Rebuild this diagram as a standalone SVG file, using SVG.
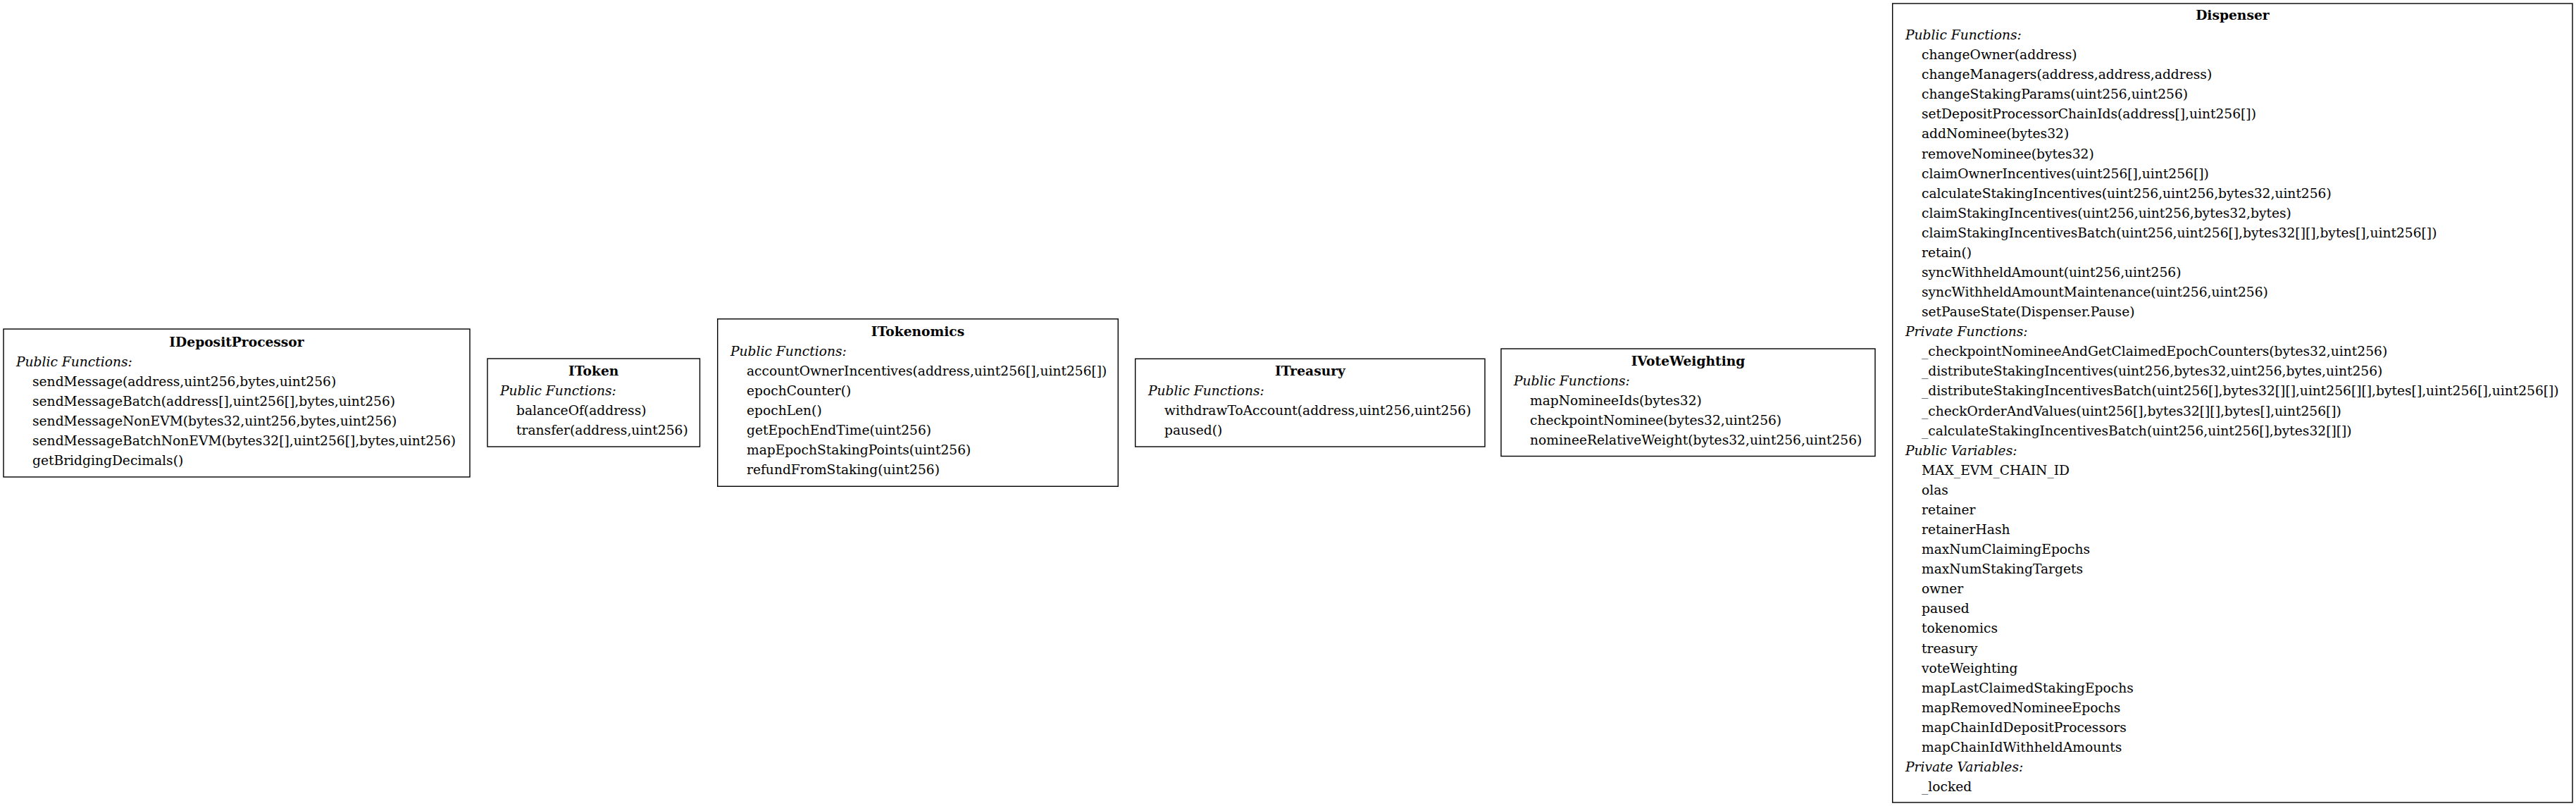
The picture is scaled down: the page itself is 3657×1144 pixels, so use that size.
<svg xmlns="http://www.w3.org/2000/svg" width="3657" height="1144" viewBox="0 0 3657 1144">
<style>
.box{fill:#fff;stroke:#000;stroke-width:1.4}
text{font-family:"DejaVu Serif",serif;font-size:18.67px;fill:#000}
.title{font-weight:bold;text-anchor:middle}
.sec{font-style:italic}
</style>
<rect x="0" y="0" width="3657" height="1144" fill="#fff"/>
<g id="connectors"></g>
<g id="IDepositProcessor">
<rect class="box" x="5" y="467" width="662" height="210"/>
<text class="title" x="336" y="491.5">IDepositProcessor</text>
<text class="sec" x="23" y="519.6">Public Functions:</text>
<text x="46" y="547.7">sendMessage(address,uint256,bytes,uint256)</text>
<text x="46" y="575.8">sendMessageBatch(address[],uint256[],bytes,uint256)</text>
<text x="46" y="603.9">sendMessageNonEVM(bytes32,uint256,bytes,uint256)</text>
<text x="46" y="632.0">sendMessageBatchNonEVM(bytes32[],uint256[],bytes,uint256)</text>
<text x="46" y="660.1">getBridgingDecimals()</text>
</g>
<g id="IToken">
<rect class="box" x="692" y="509" width="301.5" height="125"/>
<text class="title" x="842.75" y="532.9">IToken</text>
<text class="sec" x="710" y="561.0">Public Functions:</text>
<text x="733" y="589.1">balanceOf(address)</text>
<text x="733" y="617.2">transfer(address,uint256)</text>
</g>
<g id="ITokenomics">
<rect class="box" x="1018.7" y="452.7" width="568.6" height="237.6"/>
<text class="title" x="1303" y="476.7">ITokenomics</text>
<text class="sec" x="1037" y="504.8">Public Functions:</text>
<text x="1060" y="532.9">accountOwnerIncentives(address,uint256[],uint256[])</text>
<text x="1060" y="561.0">epochCounter()</text>
<text x="1060" y="589.1">epochLen()</text>
<text x="1060" y="617.2">getEpochEndTime(uint256)</text>
<text x="1060" y="645.3">mapEpochStakingPoints(uint256)</text>
<text x="1060" y="673.4">refundFromStaking(uint256)</text>
</g>
<g id="ITreasury">
<rect class="box" x="1611.7" y="509.3" width="496.3" height="124.7"/>
<text class="title" x="1860" y="532.9">ITreasury</text>
<text class="sec" x="1630" y="561.0">Public Functions:</text>
<text x="1653" y="589.1">withdrawToAccount(address,uint256,uint256)</text>
<text x="1653" y="617.2">paused()</text>
</g>
<g id="IVoteWeighting">
<rect class="box" x="2131" y="495" width="531" height="152.5"/>
<text class="title" x="2396.5" y="518.8">IVoteWeighting</text>
<text class="sec" x="2149" y="546.9">Public Functions:</text>
<text x="2172" y="575.0">mapNomineeIds(bytes32)</text>
<text x="2172" y="603.1">checkpointNominee(bytes32,uint256)</text>
<text x="2172" y="631.2">nomineeRelativeWeight(bytes32,uint256,uint256)</text>
</g>
<g id="Dispenser">
<rect class="box" x="2686.7" y="5" width="965.3" height="1134"/>
<text class="title" x="3169.4" y="27.9">Dispenser</text>
<text class="sec" x="2705" y="56.0">Public Functions:</text>
<text x="2728" y="84.1">changeOwner(address)</text>
<text x="2728" y="112.1">changeManagers(address,address,address)</text>
<text x="2728" y="140.2">changeStakingParams(uint256,uint256)</text>
<text x="2728" y="168.3">setDepositProcessorChainIds(address[],uint256[])</text>
<text x="2728" y="196.4">addNominee(bytes32)</text>
<text x="2728" y="224.5">removeNominee(bytes32)</text>
<text x="2728" y="252.5">claimOwnerIncentives(uint256[],uint256[])</text>
<text x="2728" y="280.6">calculateStakingIncentives(uint256,uint256,bytes32,uint256)</text>
<text x="2728" y="308.7">claimStakingIncentives(uint256,uint256,bytes32,bytes)</text>
<text x="2728" y="336.8">claimStakingIncentivesBatch(uint256,uint256[],bytes32[][],bytes[],uint256[])</text>
<text x="2728" y="364.9">retain()</text>
<text x="2728" y="392.9">syncWithheldAmount(uint256,uint256)</text>
<text x="2728" y="421.0">syncWithheldAmountMaintenance(uint256,uint256)</text>
<text x="2728" y="449.1">setPauseState(Dispenser.Pause)</text>
<text class="sec" x="2705" y="477.2">Private Functions:</text>
<text x="2728" y="505.3">_checkpointNomineeAndGetClaimedEpochCounters(bytes32,uint256)</text>
<text x="2728" y="533.3">_distributeStakingIncentives(uint256,bytes32,uint256,bytes,uint256)</text>
<text x="2728" y="561.4">_distributeStakingIncentivesBatch(uint256[],bytes32[][],uint256[][],bytes[],uint256[],uint256[])</text>
<text x="2728" y="589.5">_checkOrderAndValues(uint256[],bytes32[][],bytes[],uint256[])</text>
<text x="2728" y="617.6">_calculateStakingIncentivesBatch(uint256,uint256[],bytes32[][])</text>
<text class="sec" x="2705" y="645.7">Public Variables:</text>
<text x="2728" y="673.7">MAX_EVM_CHAIN_ID</text>
<text x="2728" y="701.8">olas</text>
<text x="2728" y="729.9">retainer</text>
<text x="2728" y="758.0">retainerHash</text>
<text x="2728" y="786.1">maxNumClaimingEpochs</text>
<text x="2728" y="814.1">maxNumStakingTargets</text>
<text x="2728" y="842.2">owner</text>
<text x="2728" y="870.3">paused</text>
<text x="2728" y="898.4">tokenomics</text>
<text x="2728" y="926.5">treasury</text>
<text x="2728" y="954.5">voteWeighting</text>
<text x="2728" y="982.6">mapLastClaimedStakingEpochs</text>
<text x="2728" y="1010.7">mapRemovedNomineeEpochs</text>
<text x="2728" y="1038.8">mapChainIdDepositProcessors</text>
<text x="2728" y="1066.9">mapChainIdWithheldAmounts</text>
<text class="sec" x="2705" y="1094.9">Private Variables:</text>
<text x="2728" y="1123.0">_locked</text>
</g>
</svg>
